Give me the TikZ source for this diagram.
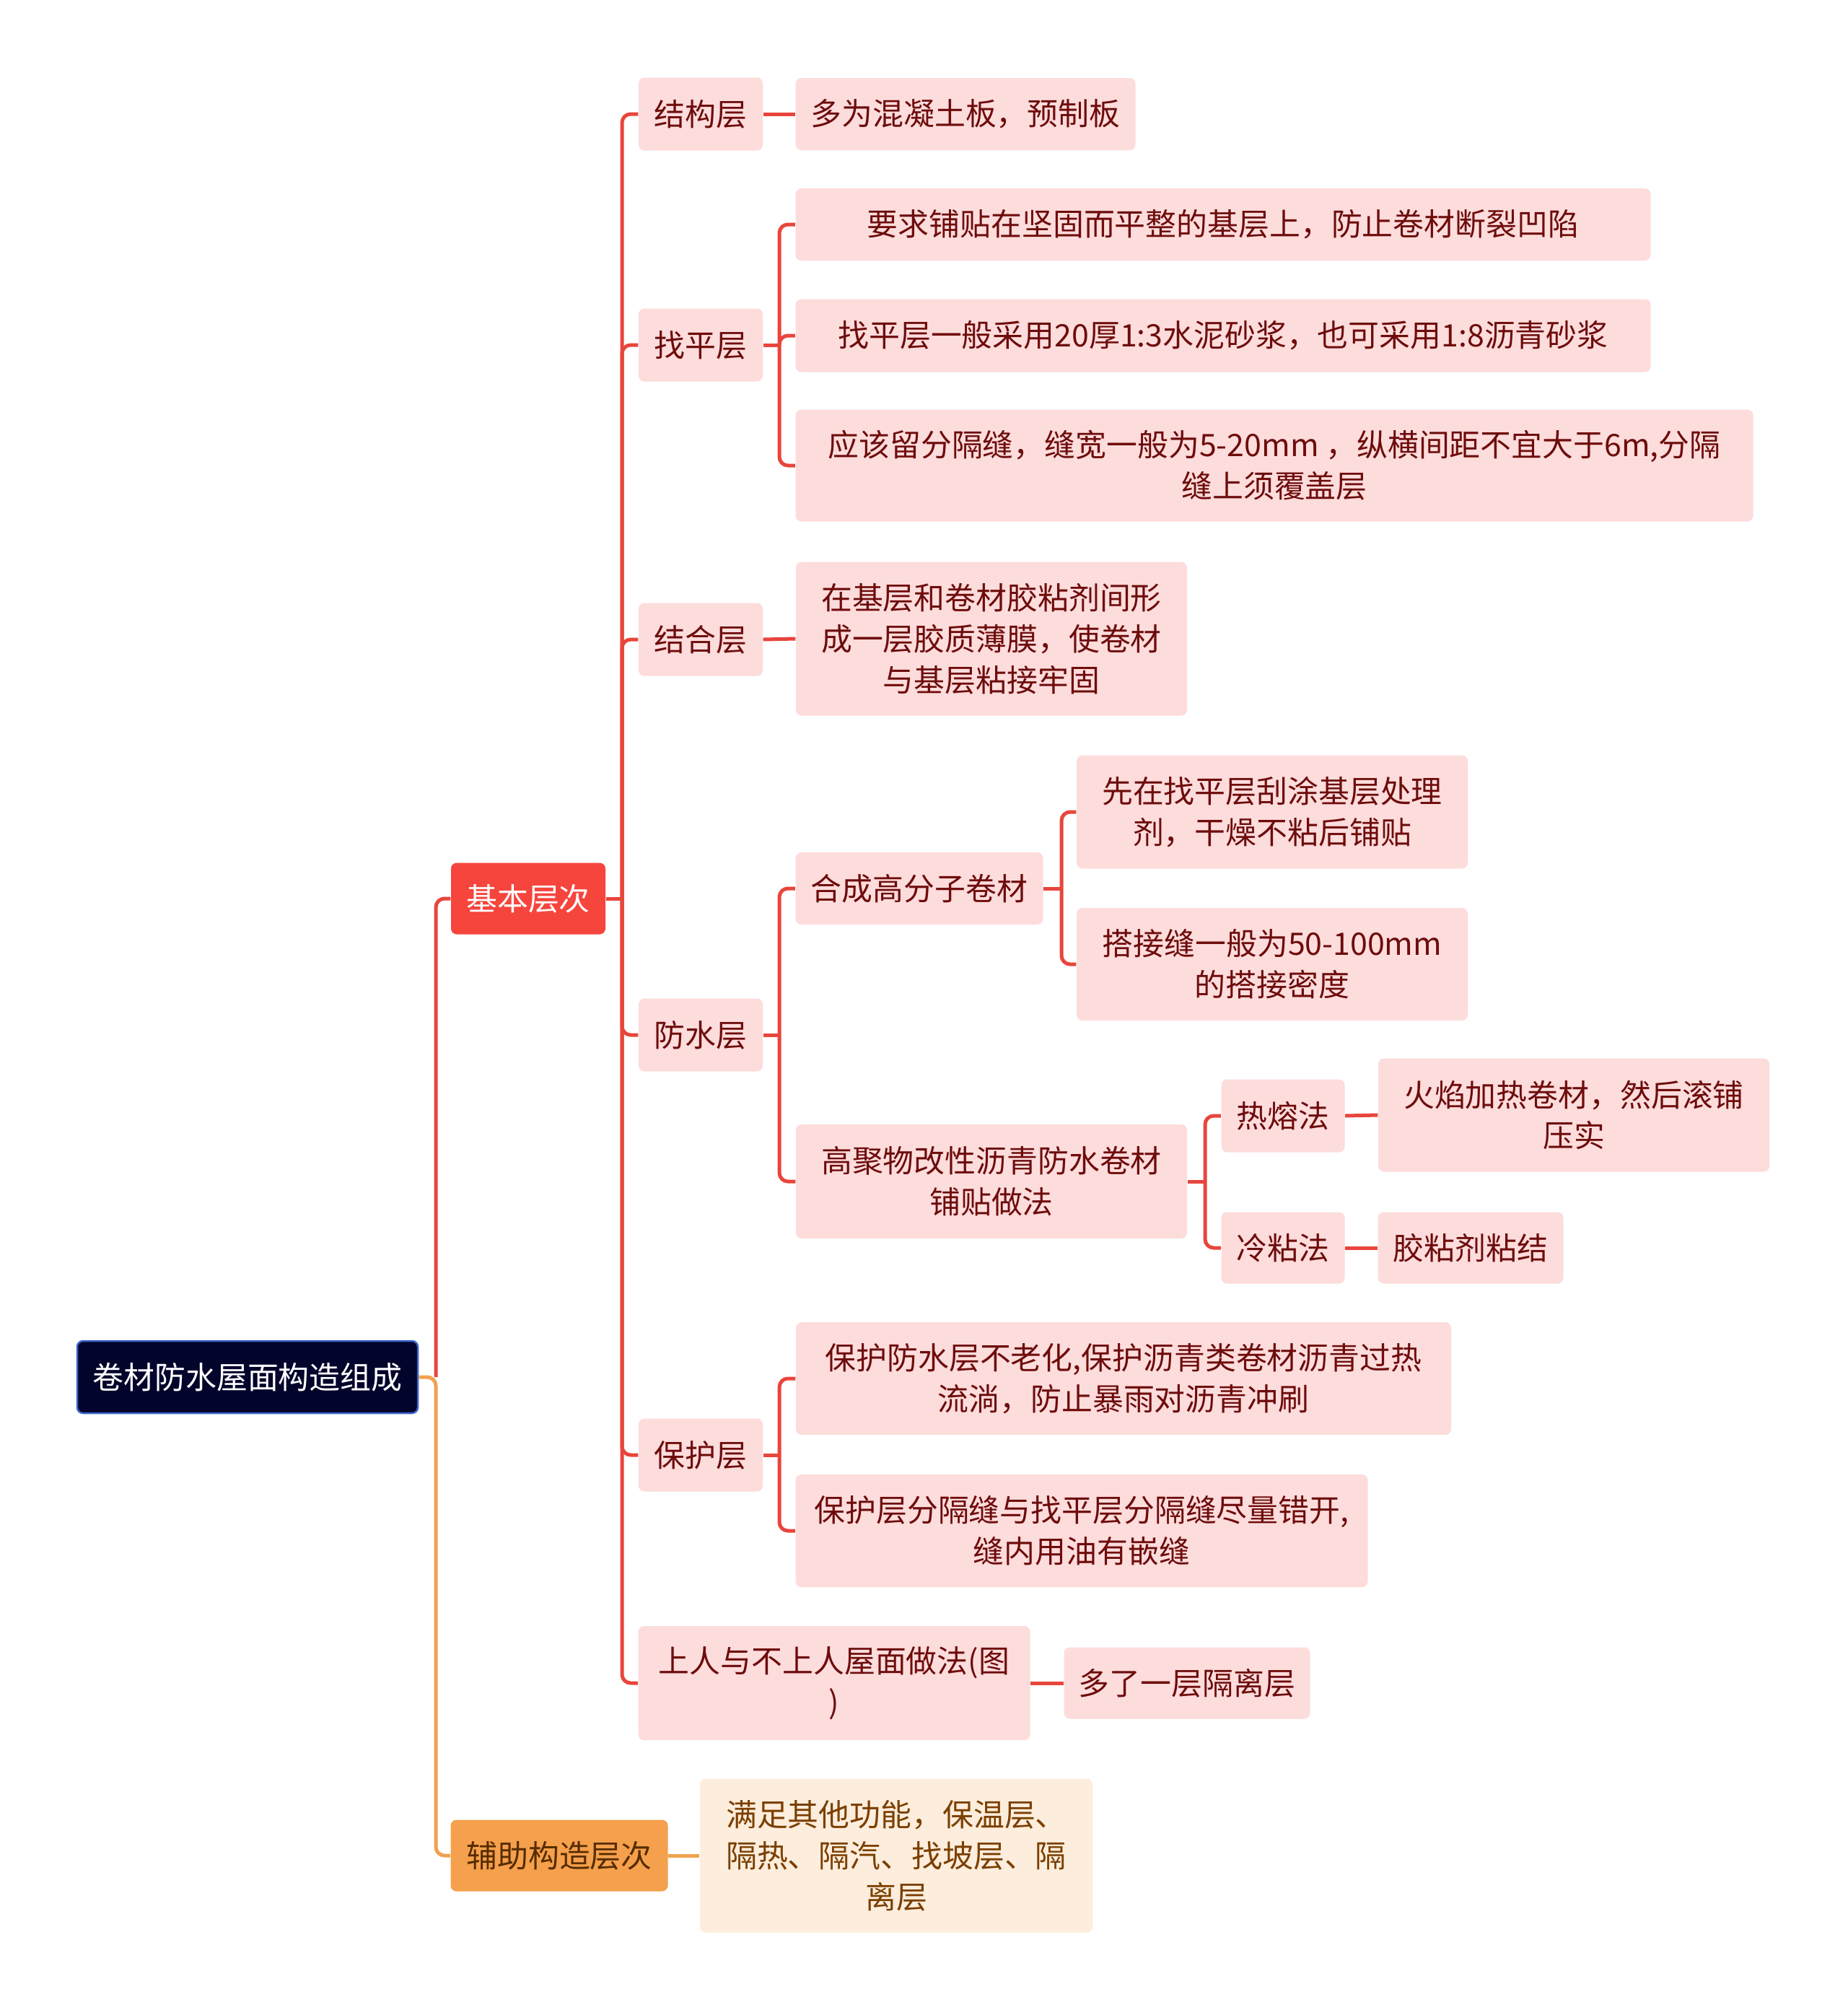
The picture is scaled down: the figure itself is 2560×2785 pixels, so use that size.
\documentclass[tikz,border=0pt]{standalone}
\usepackage{fontspec}
\setmainfont{Noto Sans CJK SC}
\definecolor{linkred}{HTML}{E8453C}
\definecolor{linkorange}{HTML}{F0A24E}
\definecolor{pinkfill}{HTML}{FDDCDC}
\definecolor{darkred}{HTML}{6E0C0C}
\definecolor{rootfill}{HTML}{03042B}
\definecolor{rootline}{HTML}{3A63C8}
\definecolor{mainred}{HTML}{F5453D}
\definecolor{mainorange}{HTML}{F5A04C}
\definecolor{creamfill}{HTML}{FDEDDC}
\definecolor{brown}{HTML}{7B3F00}
\begin{document}
\begin{tikzpicture}[x=0.1mm,y=-0.1mm,
    box/.style={rounded corners=0.8mm, align=center, inner sep=0pt,
      font=\fontsize{12.2}{16.2}\selectfont},
    leaf/.style={box, fill=pinkfill, text=darkred},
    link/.style={draw=linkred, line width=0.5mm, rounded corners=1.2mm},
    olink/.style={link, draw=linkorange}]
  \useasboundingbox[fill=white] (0,0) rectangle (2560,2785);
  % root and main branches
  \node[box, fill=rootfill, draw=rootline, line width=0.25mm, text=white,
    minimum width=47.2mm, minimum height=10mm] (root) at (343,1908) {卷材防水屋面构造组成};
  \node[box, fill=mainred, text=white, minimum width=21.4mm, minimum height=9.9mm] (jiben) at (732,1245) {基本层次};
  \node[box, fill=mainorange, text=brown!70!black, minimum width=30.1mm, minimum height=9.9mm] (fuzhu) at (775,2571) {辅助构造层次};
  % layers
  \node[leaf, minimum width=17.2mm, minimum height=10.1mm] (jiegou) at (971,158) {结构层};
  \node[leaf, minimum width=17.2mm, minimum height=10.1mm] (zhaoping) at (971,478) {找平层};
  \node[leaf, minimum width=17.2mm, minimum height=10.1mm] (jiehe) at (971,886) {结合层};
  \node[leaf, minimum width=17.2mm, minimum height=10.1mm] (fangshui) at (971,1434) {防水层};
  \node[leaf, minimum width=17.2mm, minimum height=10.1mm] (baohu) at (971,2016) {保护层};
  \node[leaf, minimum width=54.3mm, minimum height=15.8mm] (shangren) at (1156,2332) {上人与不上人屋面做法(图\\)};
  % details
  \node[leaf, minimum width=47.1mm, minimum height=10mm] (jiegou1) at (1338,158) {多为混凝土板，预制板};
  \node[leaf, minimum width=118.5mm, minimum height=10mm] (zhaoping1) at (1695,311) {要求铺贴在坚固而平整的基层上，防止卷材断裂凹陷};
  \node[leaf, minimum width=118.5mm, minimum height=10.1mm] (zhaoping2) at (1695,465) {找平层一般采用20厚1:3水泥砂浆，也可采用1:8沥青砂浆};
  \node[leaf, minimum width=132.7mm, minimum height=15.5mm] (zhaoping3) at (1766,645) {应该留分隔缝，缝宽一般为5-20mm ，纵横间距不宜大于6m,分隔\\缝上须覆盖层};
  \node[leaf, minimum width=54.2mm, minimum height=21.3mm] (jiehe1) at (1374,885) {在基层和卷材胶粘剂间形\\成一层胶质薄膜，使卷材\\与基层粘接牢固};
  \node[leaf, minimum width=34.3mm, minimum height=10mm] (hecheng) at (1274,1231) {合成高分子卷材};
  \node[leaf, minimum width=54.2mm, minimum height=15.7mm] (hecheng1) at (1763,1125) {先在找平层刮涂基层处理\\剂，干燥不粘后铺贴};
  \node[leaf, minimum width=54.2mm, minimum height=15.6mm] (hecheng2) at (1763,1336) {搭接缝一般为50-100mm\\的搭接密度};
  \node[leaf, minimum width=54.2mm, minimum height=15.8mm] (gaoju) at (1374,1637) {高聚物改性沥青防水卷材\\铺贴做法};
  \node[leaf, minimum width=17.1mm, minimum height=10.1mm] (rerong) at (1778,1546) {热熔法};
  \node[leaf, minimum width=54.2mm, minimum height=15.7mm] (rerong1) at (2181,1545) {火焰加热卷材，然后滚铺\\压实};
  \node[leaf, minimum width=17.1mm, minimum height=9.9mm] (lengzhan) at (1778,1729) {冷粘法};
  \node[leaf, minimum width=25.7mm, minimum height=9.9mm] (lengzhan1) at (2038,1729) {胶粘剂粘结};
  \node[leaf, minimum width=90.8mm, minimum height=15.6mm] (baohu1) at (1557,1910) {保护防水层不老化,保护沥青类卷材沥青过热\\流淌，防止暴雨对沥青冲刷};
  \node[leaf, minimum width=79.3mm, minimum height=15.6mm] (baohu2) at (1499,2121) {保护层分隔缝与找平层分隔缝尽量错开,\\缝内用油有嵌缝};
  \node[leaf, minimum width=34.1mm, minimum height=9.9mm] (shangren1) at (1645,2332) {多了一层隔离层};
  \node[box, fill=creamfill, text=brown, minimum width=54.4mm, minimum height=21.3mm] (fuzhu1) at (1242,2571) {满足其他功能，保温层、\\隔热、隔汽、找坡层、隔\\离层};
  % junctions
  \coordinate (j0) at (604,1908);
  \coordinate (j1) at (862,1245);
  \coordinate (j2) at (1080,478);
  \coordinate (j3) at (1080,1434);
  \coordinate (j4) at (1471,1231);
  \coordinate (j5) at (1670,1637);
  \coordinate (j6) at (1080,2016);
  % connectors
  \draw[link] (j0) |- (jiben.west);
  \draw[olink] (root.east) -- (j0) |- (fuzhu.west);
  \draw[olink] (fuzhu.east) -- (fuzhu1.west);
  \draw[link] (jiben.east) -- (j1);
  \foreach \n in {jiegou,zhaoping,jiehe,fangshui,baohu,shangren}
    \draw[link] (j1) |- (\n.west);
  \draw[link] (jiegou.east) -- (jiegou1.west);
  \draw[link] (zhaoping.east) -- (j2);
  \foreach \n in {zhaoping1,zhaoping2,zhaoping3}
    \draw[link] (j2) |- (\n.west);
  \draw[link] (jiehe.east) -- (jiehe1.west);
  \draw[link] (fangshui.east) -- (j3);
  \draw[link] (j3) |- (hecheng.west);
  \draw[link] (j3) |- (gaoju.west);
  \draw[link] (hecheng.east) -- (j4);
  \draw[link] (j4) |- (hecheng1.west);
  \draw[link] (j4) |- (hecheng2.west);
  \draw[link] (gaoju.east) -- (j5);
  \draw[link] (j5) |- (rerong.west);
  \draw[link] (j5) |- (lengzhan.west);
  \draw[link] (rerong.east) -- (rerong1.west);
  \draw[link] (lengzhan.east) -- (lengzhan1.west);
  \draw[link] (baohu.east) -- (j6);
  \draw[link] (j6) |- (baohu1.west);
  \draw[link] (j6) |- (baohu2.west);
  \draw[link] (shangren.east) -- (shangren1.west);
\end{tikzpicture}
\end{document}
